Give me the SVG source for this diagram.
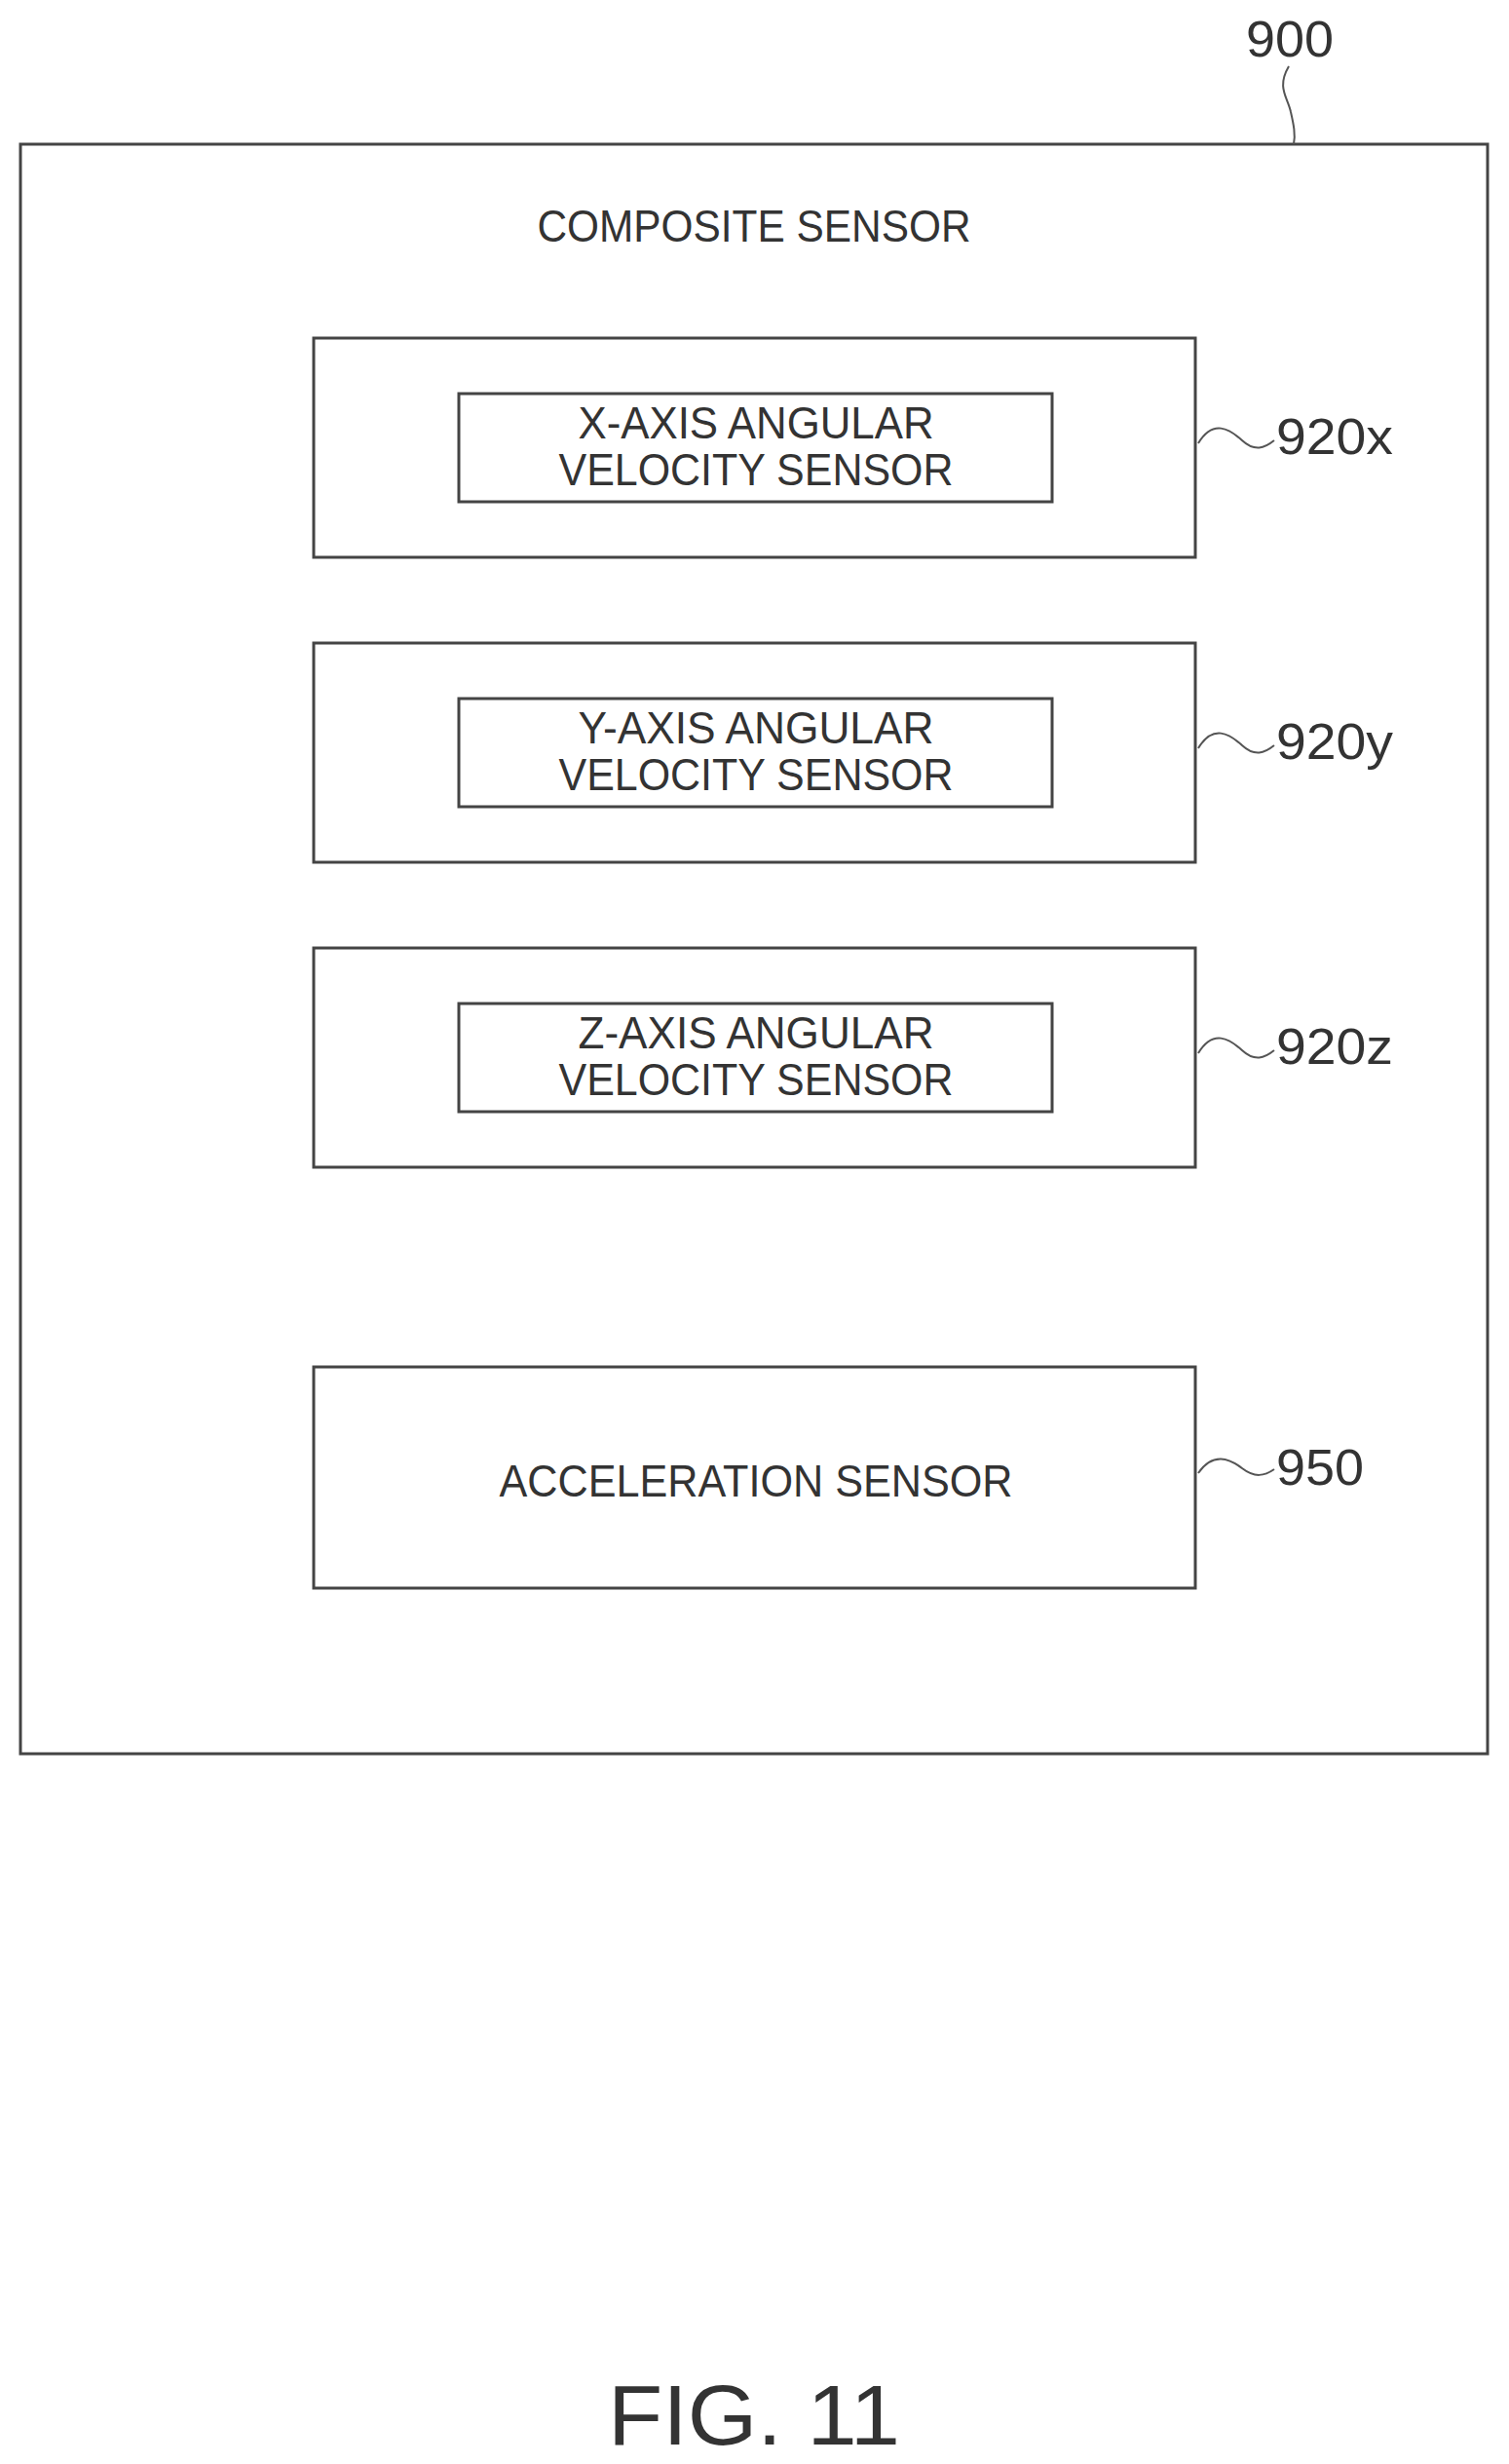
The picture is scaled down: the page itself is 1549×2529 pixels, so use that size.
<svg xmlns="http://www.w3.org/2000/svg" width="1549" height="2529" viewBox="0 0 1549 2529">
<style>
.b{fill:none;stroke:#444;stroke-width:3}
.l{fill:none;stroke:#555;stroke-width:2}
text{font-family:"Liberation Sans",Arial,sans-serif;fill:#333}
.t{font-size:46px;text-anchor:middle}
.r{font-size:52px}
</style>
<rect width="1549" height="2529" fill="#fff"/>
<g id="n900"><rect class="b" x="21" y="148" width="1506" height="1652"/>
<text class="t" x="774" y="248" textLength="445" lengthAdjust="spacingAndGlyphs">COMPOSITE SENSOR</text>
<text class="r" x="1279" y="58" textLength="90" lengthAdjust="spacingAndGlyphs">900</text></g>
<g id="n920x"><rect class="b" x="322" y="347" width="905" height="225"/><rect class="b" x="471" y="404" width="609" height="111"/>
<text class="t" x="776" y="450" textLength="365" lengthAdjust="spacingAndGlyphs">X-AXIS ANGULAR</text>
<text class="t" x="776" y="498" textLength="405" lengthAdjust="spacingAndGlyphs">VELOCITY SENSOR</text>
<text class="r" x="1310" y="466" textLength="120" lengthAdjust="spacingAndGlyphs">920x</text></g>
<g id="n920y"><rect class="b" x="322" y="660" width="905" height="225"/><rect class="b" x="471" y="717" width="609" height="111"/>
<text class="t" x="776" y="763" textLength="365" lengthAdjust="spacingAndGlyphs">Y-AXIS ANGULAR</text>
<text class="t" x="776" y="811" textLength="405" lengthAdjust="spacingAndGlyphs">VELOCITY SENSOR</text>
<text class="r" x="1310" y="779" textLength="120" lengthAdjust="spacingAndGlyphs">920y</text></g>
<g id="n920z"><rect class="b" x="322" y="973" width="905" height="225"/><rect class="b" x="471" y="1030" width="609" height="111"/>
<text class="t" x="776" y="1076" textLength="365" lengthAdjust="spacingAndGlyphs">Z-AXIS ANGULAR</text>
<text class="t" x="776" y="1124" textLength="405" lengthAdjust="spacingAndGlyphs">VELOCITY SENSOR</text>
<text class="r" x="1310" y="1092" textLength="120" lengthAdjust="spacingAndGlyphs">920z</text></g>
<g id="n950"><rect class="b" x="322" y="1403" width="905" height="227"/>
<text class="t" x="776" y="1536" textLength="527" lengthAdjust="spacingAndGlyphs">ACCELERATION SENSOR</text>
<text class="r" x="1310" y="1524" textLength="90" lengthAdjust="spacingAndGlyphs">950</text></g>
<g id="connectors">
<path class="l" d="M1323,68 C1310,90 1322,100 1325,115 C1328,128 1330,138 1328,148"/>
<path class="l" d="M1230,455 C1245,430 1262,440 1275,452 C1288,464 1298,460 1308,452"/>
<path class="l" d="M1230,768 C1245,743 1262,753 1275,765 C1288,777 1298,773 1308,765"/>
<path class="l" d="M1230,1081 C1245,1056 1262,1066 1275,1078 C1288,1090 1298,1086 1308,1078"/>
<path class="l" d="M1230,1512 C1245,1490 1262,1497 1275,1507 C1288,1517 1298,1515 1308,1508"/>
</g>
<text x="774" y="2509" font-size="88" text-anchor="middle" textLength="300" lengthAdjust="spacingAndGlyphs">FIG. 11</text>
</svg>
